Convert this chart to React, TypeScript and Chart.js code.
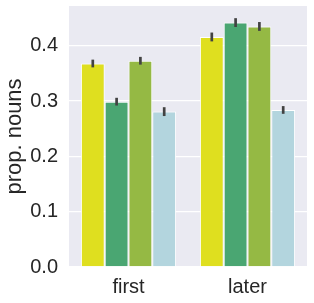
import React, { useEffect, useRef } from "react";
import { Chart, registerables } from "chart.js";

Chart.register(...registerables);

const categories = ["first", "later"];
const seriesNames = ["a", "b", "c", "d"];
const seriesColors = ["#dfdf1f", "#4aa672", "#95b944", "#b3d5de"];
const seriesValues = [
  [0.368, 0.416],
  [0.299, 0.442],
  [0.373, 0.435],
  [0.281, 0.284],
];
const seriesErrors = [
  [0.007, 0.008],
  [0.007, 0.008],
  [0.007, 0.008],
  [0.008, 0.007],
];
const yTicks = [0.0, 0.1, 0.2, 0.3, 0.4];

const bgPlugin = {
  id: "bgPlugin",
  beforeDraw(chart: any) {
    const { ctx, chartArea } = chart;
    ctx.save();
    ctx.fillStyle = "#eaeaf2";
    ctx.fillRect(chartArea.left, chartArea.top, chartArea.right - chartArea.left, chartArea.bottom - chartArea.top);
    ctx.restore();
  },
};

const errPlugin = {
  id: "errPlugin",
  afterDatasetsDraw(chart: any) {
    const { ctx } = chart;
    const yScale = chart.scales.y;
    ctx.save();
    ctx.strokeStyle = "#424242";
    ctx.lineWidth = 2.7;
    chart.data.datasets.forEach((ds: any, i: number) => {
      const meta = chart.getDatasetMeta(i);
      meta.data.forEach((el: any, j: number) => {
        const v = seriesValues[i][j];
        const e = seriesErrors[i][j];
        ctx.beginPath();
        ctx.moveTo(el.x, yScale.getPixelForValue(v - e));
        ctx.lineTo(el.x, yScale.getPixelForValue(v + e));
        ctx.stroke();
      });
    });
    ctx.restore();
  },
};

export default function App() {
  const ref = useRef<HTMLCanvasElement | null>(null);
  useEffect(() => {
    document.body.style.margin = "0";
    const chart = new Chart(ref.current as HTMLCanvasElement, {
      type: "bar",
      data: {
        labels: categories,
        datasets: seriesNames.map((n, i) => ({
          label: n,
          data: seriesValues[i],
          backgroundColor: seriesColors[i],
          borderColor: "#ffffff",
          borderWidth: 1,
          borderSkipped: "bottom",
          categoryPercentage: 0.8,
          barPercentage: 1.0,
        })),
      },
      options: {
        animation: false,
        responsive: false,
        maintainAspectRatio: false,
        layout: { padding: { top: 6, right: 7, left: 0, bottom: 0 } },
        plugins: { legend: { display: false }, tooltip: { enabled: false } },
        scales: {
          x: {
            grid: { display: false, drawTicks: false },
            border: { display: false },
            ticks: {
              color: "#262626",
              font: { family: "Liberation Sans", size: 20 },
              padding: 8,
            },
            afterFit(scale: any) {
              scale.height = 36;
              scale.paddingLeft = 0;
              scale.paddingRight = 0;
            },
          },
          y: {
            min: 0,
            max: 0.472,
            grid: { color: "#ffffff", lineWidth: 1.3, drawTicks: false },
            border: { display: false },
            afterBuildTicks(scale: any) {
              scale.ticks = yTicks.map((v) => ({ value: v }));
            },
            ticks: {
              color: "#262626",
              font: { family: "Liberation Sans", size: 20 },
              padding: 11,
              callback: (v: any) => Number(v).toFixed(1),
            },
            title: {
              display: true,
              text: "prop. nouns",
              color: "#262626",
              font: { family: "Liberation Sans", size: 22 },
              padding: { top: 2, bottom: 0 },
            },
            afterFit(scale: any) {
              scale.width = 69;
              scale.paddingTop = 0;
              scale.paddingBottom = 0;
            },
          },
        },
      },
      plugins: [bgPlugin, errPlugin],
    });
    return () => chart.destroy();
  }, []);
  return (
    <div style={{ position: "absolute", left: 0, top: 0, width: 314, height: 303 }}>
      <canvas ref={ref} width={314} height={303} style={{ width: 314, height: 303 }} />
    </div>
  );
}
